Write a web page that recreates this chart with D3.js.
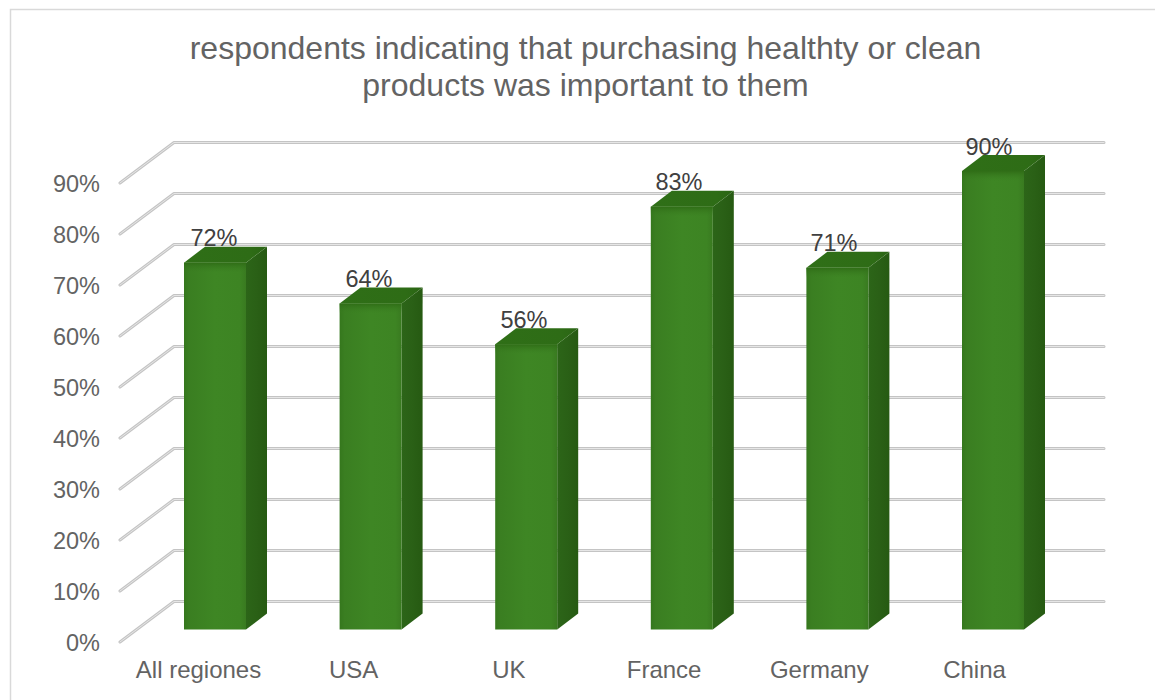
<!DOCTYPE html>
<html>
<head>
<meta charset="utf-8">
<script src="https://cdn.jsdelivr.net/npm/d3@7"></script>
<style>
  html, body { margin: 0; padding: 0; background: #fff; }
  svg { display: block; font-family: "Liberation Sans", Arial, sans-serif; }
</style>
</head>
<body>
<svg id="chart" width="1155" height="700"></svg>
<script>
const categories = ["All regiones", "USA", "UK", "France", "Germany", "China"];
const shares = [72, 64, 56, 83, 71, 90];
const axisTicks = [0, 10, 20, 30, 40, 50, 60, 70, 80, 90];
const titleLines = ["respondents indicating that purchasing healthty or clean", "products was important to them"];

const svg = d3.select("#chart");
const defs = svg.append("defs");

// Extrusion of the pseudo-3D box floor
const depthX = 21, depthY = 16, barWidth = 62, bevel = 10;

// Value scales for the front of the bars, the back wall and the axis edge
const yBar = d3.scaleLinear().domain([0, 90]).range([629.5, 171]);
const yWall = d3.scaleLinear().domain([0, 90]).range([601.5, 142.5]);
const yEdge = d3.scaleLinear().domain([0, 90]).range([642, 183]);

// Category positions for bars, value labels and axis labels
const xBar = d3.scalePoint().domain(categories).range([184, 962]);
const xValue = d3.scalePoint().domain(categories).range([214, 989]);
const xLabel = d3.scalePoint().domain(categories).range([198, 974]);

const addStops = (grad, stops) => stops.forEach(([o, c, a]) =>
  grad.append("stop").attr("offset", o).attr("stop-color", c).attr("stop-opacity", a === undefined ? 1 : a));

addStops(defs.append("linearGradient").attr("id", "barFront"),
  [[0, "#35771d"], [0.08, "#3a7e21"], [0.5, "#3e8624"], [0.9, "#3d8423"], [1, "#397a20"]]);
addStops(defs.append("linearGradient").attr("id", "barSide"),
  [[0, "#2c6518"], [0.5, "#2a6016"], [1, "#265a12"]]);
addStops(defs.append("linearGradient").attr("id", "barTop"),
  [[0, "#2f6f17"], [0.8, "#2e6c16"], [1, "#2a6414"]]);
// Soft bevel shading that runs from the top edge of the front face
addStops(defs.append("linearGradient").attr("id", "barBevel").attr("x2", 0).attr("y2", 1),
  [[0, "#2f6c16", 0.95], [1, "#3a7e21", 0]]);

// Outer frame of the chart area
svg.append("path")
  .attr("d", "M10.5,700V9.5H1155")
  .attr("fill", "none").attr("stroke", "#d9d9d9").attr("stroke-width", 1.5);

// Title
svg.append("text")
  .attr("text-anchor", "middle").attr("fill", "#636363").attr("font-size", 32)
  .selectAll("tspan").data(titleLines).join("tspan")
  .attr("x", 585.5).attr("y", (d, i) => 59 + i * 37).text(d => d);

// Gridlines: side wall diagonal plus back wall horizontal
const gridPath = t => d3.line()([[120, yEdge(t)], [174, yWall(t)], [1104, yWall(t)]]);
const grid = svg.append("g").attr("fill", "none").attr("stroke-linejoin", "round").attr("stroke-linecap", "round");
grid.selectAll(".outer").data(axisTicks).join("path").attr("class", "outer")
  .attr("d", gridPath).attr("stroke", "#c4c4c4").attr("stroke-width", 3);
grid.selectAll(".inner").data(axisTicks).join("path").attr("class", "inner")
  .attr("d", gridPath).attr("stroke", "#e6e6e6").attr("stroke-width", 1);

// Value axis labels
const yAxis = svg.append("g").attr("transform", "translate(100,0)")
  .call(d3.axisLeft(yEdge).tickValues(axisTicks).tickSize(0).tickPadding(0).tickFormat(d => d + "%"));
yAxis.select(".domain").remove();
yAxis.selectAll("text").attr("font-size", 23.5).attr("fill", "#636363")
  .attr("font-family", "inherit").attr("dy", "0.36em");

// Category labels
const xAxis = svg.append("g").attr("transform", "translate(0,661)")
  .call(d3.axisBottom(xLabel).tickSize(0).tickPadding(0));
xAxis.select(".domain").remove();
xAxis.selectAll("text").attr("font-size", 24).attr("fill", "#636363")
  .attr("font-family", "inherit").attr("dy", "0.71em");

// Bars: side face, top face, front face, then the bevel shading
const rows = categories.map((c, i) => ({ category: c, value: shares[i] }));
const bars = svg.append("g").selectAll("g").data(rows).join("g");
bars.append("path").attr("fill", "url(#barSide)").attr("d", d => {
  const x = xBar(d.category) + barWidth, b = yBar(0), t = yBar(d.value);
  return d3.line()([[x, b], [x + depthX, b - depthY], [x + depthX, t - depthY], [x, t]]) + "Z";
});
bars.append("path").attr("fill", "url(#barTop)").attr("d", d => {
  const x = xBar(d.category), t = yBar(d.value);
  return d3.line()([[x, t], [x + depthX, t - depthY], [x + barWidth + depthX, t - depthY], [x + barWidth, t]]) + "Z";
});
bars.append("rect").attr("fill", "url(#barFront)")
  .attr("x", d => xBar(d.category)).attr("width", barWidth)
  .attr("y", d => yBar(d.value)).attr("height", d => yBar(0) - yBar(d.value));
bars.append("rect").attr("fill", "url(#barBevel)")
  .attr("x", d => xBar(d.category)).attr("width", barWidth)
  .attr("y", d => yBar(d.value)).attr("height", bevel);

// Value labels
svg.append("g").selectAll("text").data(rows).join("text")
  .attr("x", d => xValue(d.category)).attr("y", d => yBar(d.value) - 16.5)
  .attr("text-anchor", "middle").attr("font-size", 23.5).attr("fill", "#404040")
  .text(d => d.value + "%");
</script>
</body>
</html>
